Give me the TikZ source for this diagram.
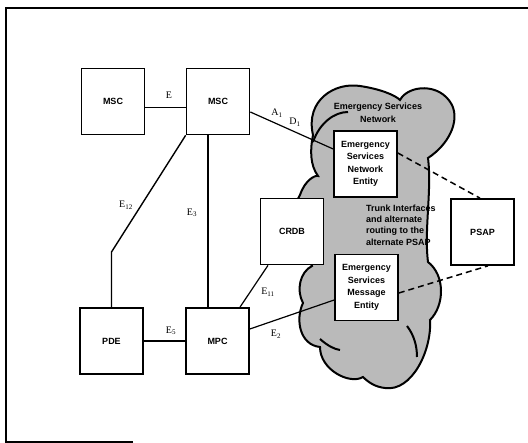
\documentclass[tikz,border=0pt]{standalone}
\usepackage{fontspec}
\setmainfont{Liberation Serif}
\newfontfamily\hv{Liberation Sans}
\begin{document}
\begin{tikzpicture}[x=1pt,y=-1pt,
  box/.style={draw=black,line width=1.7pt,fill=white,minimum width=63pt,minimum height=66pt,inner sep=0pt,
    font=\hv\bfseries\fontsize{9}{12.5}\selectfont,align=center},
  conn/.style={draw=black,line width=1.2pt},
  elab/.style={font=\fontsize{10}{11}\selectfont,inner sep=0pt},
  dashline/.style={draw=black,line width=1.5pt,dash pattern=on 6pt off 4pt},
  cloudline/.style={draw=black,line width=2pt}]
\useasboundingbox (0,0) rectangle (528,443);
% frame
\draw[line width=1.4pt] (133,442) -- (6,442) -- (6,8) -- (528,8);
% cloud
\path[fill=black!27,cloudline]
 (313,135) .. controls (305,100) and (335,82) .. (360,86)
 .. controls (380,89) and (395,95) .. (400,100)
 .. controls (408,85) and (440,82) .. (452,105)
 .. controls (460,122) and (448,145) .. (428,158)
 .. controls (432,190) and (424,230) .. (428,262)
 .. controls (445,275) and (445,305) .. (430,320)
 .. controls (432,350) and (412,392) .. (385,388)
 .. controls (375,387) and (368,382) .. (363,377)
 .. controls (350,385) and (320,370) .. (320,347)
 .. controls (300,345) and (295,320) .. (303,303)
 .. controls (296,290) and (300,272) .. (312,266)
 .. controls (300,240) and (290,210) .. (300,195)
 .. controls (305,180) and (315,175) .. (318,176)
 .. controls (310,165) and (310,150) .. (313,135) -- cycle;
\draw[cloudline] (313,142) .. controls (320,122) and (335,112) .. (348,112);
\draw[cloudline] (320,339) .. controls (328,346) and (334,349) .. (340,350);
\draw[cloudline] (407,326) .. controls (414,335) and (417,346) .. (417,357);
\node[font=\hv\bfseries\fontsize{9}{12.5}\selectfont,align=center,inner sep=0pt] (esn) at (378,113) {Emergency Services\\Network};
\node[font=\hv\bfseries\fontsize{9}{11.3}\selectfont,align=left,inner sep=0pt,anchor=west] (trunk) at (366,225)
 {Trunk Interfaces\\and alternate\\routing to the\\alternate PSAP};
% boxes
\node[box] (msc1) at (113,101.5) {MSC};
\node[box] (msc2) at (218,101.5) {MSC};
\node[box] (crdb) at (292,231.5) {CRDB};
\node[box] (psap) at (482.5,232) {PSAP};
\node[box] (pde) at (111.5,341) {PDE};
\node[box] (mpc) at (217.5,341) {MPC};
\node[box] (esne) at (365.5,164) {Emergency\\Services\\Network\\Entity};
\node[box] (esme) at (366.5,287.5) {Emergency\\Services\\Message\\Entity};
\coordinate (e12b) at (111.5,252);
% connectors
\draw[conn,line width=1pt] ([yshift=-6.5pt]msc1.east) -- ([yshift=-6.5pt]msc2.west);
\draw[conn] ([yshift=-10.5pt]msc2.east) -- ([yshift=15pt]esne.west);
\draw[conn,line width=1.4pt] (msc2.south west) -- (e12b) -- (pde.north);
\draw[conn,line width=1.4pt] ([xshift=-10pt]msc2.south) -- ([xshift=-9.5pt]mpc.north);
\draw[conn] (pde.east) -- (mpc.west);
\draw[conn] ([xshift=22.5pt]mpc.north) -- ([xshift=-24pt]crdb.south);
\draw[conn] ([yshift=12pt]mpc.east) -- ([yshift=-12.5pt]esme.west);
\draw[dashline] ([yshift=11pt]esne.east) -- ([xshift=-2.5pt]psap.north);
\draw[dashline] ([yshift=-5.5pt]esme.east) -- ([xshift=5.5pt]psap.south);
% labels
\node[elab] (le) at (169,95) {E};
\node[elab] (la) at (277,113) {A\textsubscript{1}};
\node[elab] (ld) at (295,122) {D\textsubscript{1}};
\node[elab] (l12) at (126,205) {E\textsubscript{12}};
\node[elab] (l3) at (192,213) {E\textsubscript{3}};
\node[elab] (l5) at (171,331) {E\textsubscript{5}};
\node[elab] (l11) at (268,292) {E\textsubscript{11}};
\node[elab] (l2) at (276,334) {E\textsubscript{2}};
\end{tikzpicture}
\end{document}
